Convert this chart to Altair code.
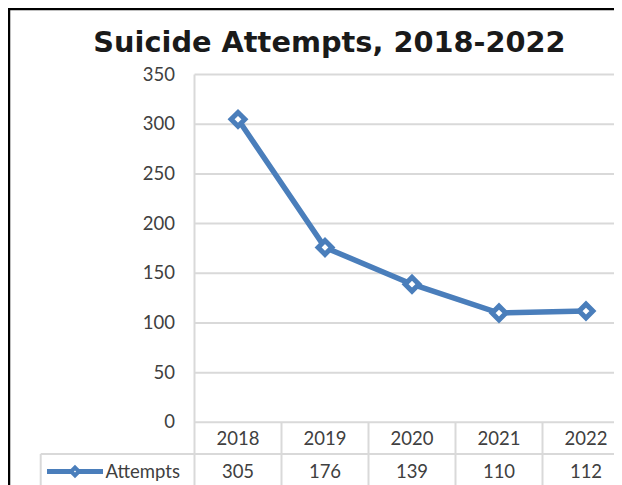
import altair as alt
import pandas as pd

# ---- data ----
years = ["2018", "2019", "2020", "2021", "2022"]
attempts = [305, 176, 139, 110, 112]
series_name = "Attempts"
y_ticks = [0, 50, 100, 150, 200, 250, 300, 350]
title_text = "Suicide Attempts, 2018-2022"

# ---- layout (pixels, chart coordinates) ----
W, H = 606, 477
PL = 186.5          # plot left edge
BAND = 87.0         # category band width
Y0 = 414.3          # pixel of value 0
PX_PER_UNIT = 0.9934
TABLE_MID = 446.0   # line between header row and data row
TABLE_LEFT = 32.7
HEADER_Y = 430.5
ROW_Y = 463.5

BLUE = "#4a7ebb"
GRID = "#d9d9d9"
TXT = "#404040"
FONT = "Lato"

xscale = alt.Scale(domain=[-PL / BAND, (W - PL) / BAND], nice=False, zero=False)
yscale = alt.Scale(domain=[(Y0 - H) / PX_PER_UNIT, Y0 / PX_PER_UNIT], nice=False, zero=False)

df = pd.DataFrame({
    "year": years,
    "attempts": attempts,
    "u": [i + 0.5 for i in range(len(years))],
})
ticks_df = pd.DataFrame({"v": y_ticks, "label": [str(t) for t in y_ticks]})
sep_df = pd.DataFrame({"u": [float(i) for i in range(1, len(years))]})
one = pd.DataFrame({"k": [0]})

X = lambda f: alt.X(f, type="quantitative", scale=xscale, axis=None)
Y = lambda f: alt.Y(f, type="quantitative", scale=yscale, axis=None)

y350 = Y0 - max(y_ticks) * PX_PER_UNIT

grid = alt.Chart(ticks_df).mark_rule(color=GRID, strokeWidth=2).encode(
    y=Y("v"), x=alt.value(PL), x2=alt.value(W)
)
vline = alt.Chart(one).mark_rule(color=GRID, strokeWidth=2).encode(
    x=alt.value(PL), y=alt.value(y350), y2=alt.value(H)
)
col_sep = alt.Chart(sep_df).mark_rule(color=GRID, strokeWidth=2).encode(
    x=X("u"), y=alt.value(Y0), y2=alt.value(H)
)
row_line = alt.Chart(one).mark_rule(color=GRID, strokeWidth=2).encode(
    x=alt.value(TABLE_LEFT), x2=alt.value(W), y=alt.value(TABLE_MID)
)
row_left = alt.Chart(one).mark_rule(color=GRID, strokeWidth=2).encode(
    x=alt.value(TABLE_LEFT), y=alt.value(TABLE_MID), y2=alt.value(H)
)

line = alt.Chart(df).mark_line(color=BLUE, strokeWidth=5.5).encode(
    x=X("u"), y=Y("attempts")
)
pts = alt.Chart(df).mark_point(
    shape="diamond", filled=True, fill="white", stroke=BLUE, strokeWidth=5, size=190, opacity=1
).encode(x=X("u"), y=Y("attempts"))

ylabels = alt.Chart(ticks_df).mark_text(
    align="right", baseline="middle", font=FONT, fontSize=18.5, color=TXT
).encode(y=Y("v"), x=alt.value(167), text="label:N")

header = alt.Chart(df).mark_text(
    align="center", baseline="middle", font=FONT, fontSize=18.5, color=TXT
).encode(x=X("u"), y=alt.value(HEADER_Y), text="year:N")

row = alt.Chart(df).mark_text(
    align="center", baseline="middle", font=FONT, fontSize=18.5, color=TXT
).encode(x=X("u"), y=alt.value(ROW_Y), text="attempts:Q")

leg_df = pd.DataFrame({"name": [series_name]})
leg_line = alt.Chart(leg_df).mark_rule(color=BLUE, strokeWidth=5).encode(
    x=alt.value(39), x2=alt.value(95), y=alt.value(ROW_Y)
)
leg_pt = alt.Chart(leg_df).mark_point(
    shape="diamond", filled=True, fill="white", stroke=BLUE, strokeWidth=4, size=60, opacity=1
).encode(x=alt.value(67), y=alt.value(ROW_Y))
leg_txt = alt.Chart(leg_df).mark_text(
    align="left", baseline="middle", font=FONT, fontSize=18.5, color=TXT
).encode(x=alt.value(97.5), y=alt.value(ROW_Y), text="name:N")

title_df = pd.DataFrame({"t": [title_text]})
title = alt.Chart(title_df).mark_text(
    align="center", baseline="alphabetic", font="DejaVu Sans", fontWeight="bold",
    fontSize=28.8, color="#1a1a1a"
).encode(x=alt.value(321.5), y=alt.value(43.5), text="t:N")

border_top = alt.Chart(one).mark_rule(color="black", strokeWidth=3).encode(
    x=alt.value(0), x2=alt.value(W), y=alt.value(0.75)
)
border_left = alt.Chart(one).mark_rule(color="black", strokeWidth=3).encode(
    x=alt.value(0.75), y=alt.value(0), y2=alt.value(H)
)

chart = alt.layer(
    grid, vline, col_sep, row_line, row_left,
    line, pts, ylabels, header, row,
    leg_line, leg_pt, leg_txt, title, border_top, border_left,
).properties(
    width=W, height=H, padding=0, autosize="none", background="white"
).configure_view(stroke=None)

chart.save("out.html", embed_options={"renderer": "svg", "actions": False})
